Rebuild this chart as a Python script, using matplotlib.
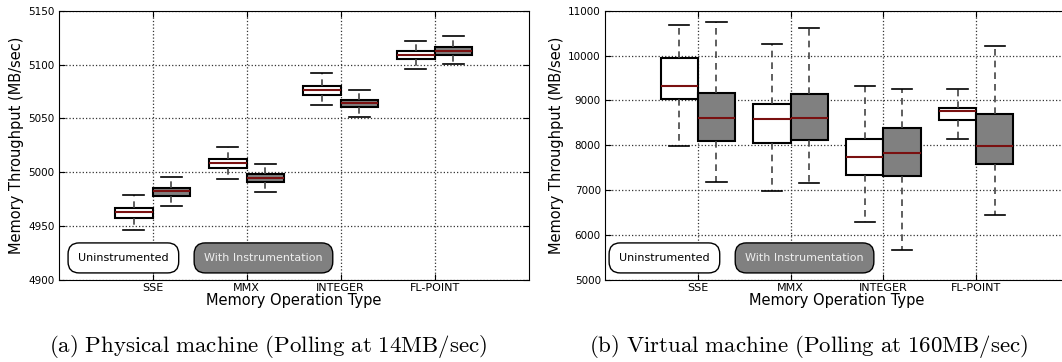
import numpy as np
import matplotlib
matplotlib.use('Agg')
import matplotlib.pyplot as plt

plt.rcParams['font.family'] = ['DejaVu Sans']
plt.rcParams['mathtext.fontset'] = 'cm'

categories = ['SSE', 'MMX', 'INTEGER', 'FL-POINT']

# physical machine: whisker low, q1, median, q3, whisker high
phys_plain_lo = [4946.6, 4994.1, 5062.3, 5096.0]
phys_plain_q1 = [4958.0, 5004.3, 5071.9, 5105.0]
phys_plain_med = [4962.7, 5008.6, 5076.2, 5108.9]
phys_plain_q3 = [4967.3, 5012.7, 5080.2, 5112.7]
phys_plain_hi = [4979.3, 5023.8, 5092.0, 5121.9]

phys_inst_lo = [4968.5, 4981.5, 5050.9, 5100.3]
phys_inst_q1 = [4978.4, 4991.4, 5060.2, 5108.6]
phys_inst_med = [4982.4, 4994.8, 5063.9, 5113.0]
phys_inst_q3 = [4985.5, 4998.1, 5067.3, 5116.0]
phys_inst_hi = [4995.4, 5007.7, 5076.5, 5126.5]

# virtual machine
virt_plain_lo = [7985, 6978, 6282, 8133]
virt_plain_q1 = [9030, 8045, 7348, 8556]
virt_plain_med = [9311, 8578, 7748, 8763]
virt_plain_q3 = [9941, 8926, 8141, 8830]
virt_plain_hi = [10674, 10252, 9326, 9252]

virt_inst_lo = [7193, 7170, 5674, 6452]
virt_inst_q1 = [8104, 8111, 7311, 7593]
virt_inst_med = [8600, 8600, 7830, 7978]
virt_inst_q3 = [9170, 9148, 8393, 8696]
virt_inst_hi = [10748, 10622, 9259, 10207]


def make_stats(lo, q1, med, q3, hi):
    return [dict(whislo=a, q1=b, med=c, q3=d, whishi=e, fliers=[])
            for a, b, c, d, e in zip(lo, q1, med, q3, hi)]


def draw_boxes(ax, stats, pos, face):
    ax.bxp(stats, positions=pos, widths=0.4, capwidths=0.22,
           patch_artist=True, showfliers=False, manage_ticks=False,
           boxprops=dict(facecolor=face, edgecolor='black', linewidth=1.5),
           medianprops=dict(color='#7a1010', linewidth=1.5),
           whiskerprops=dict(color='#444444', linestyle=(0, (4, 3)), linewidth=1.2),
           capprops=dict(color='black', linewidth=1.2))


fig = plt.figure(figsize=(10.62, 3.62), dpi=100)
ax1 = fig.add_axes([0.0551, 0.2265, 0.4426, 0.744])
ax2 = fig.add_axes([0.5697, 0.2265, 0.4369, 0.744])

x = np.arange(1, len(categories) + 1)

panels = [
    (ax1, make_stats(phys_plain_lo, phys_plain_q1, phys_plain_med, phys_plain_q3, phys_plain_hi),
     make_stats(phys_inst_lo, phys_inst_q1, phys_inst_med, phys_inst_q3, phys_inst_hi),
     (4900, 5150), np.arange(4900, 5151, 50), (0.138, 0.436)),
    (ax2, make_stats(virt_plain_lo, virt_plain_q1, virt_plain_med, virt_plain_q3, virt_plain_hi),
     make_stats(virt_inst_lo, virt_inst_q1, virt_inst_med, virt_inst_q3, virt_inst_hi),
     (5000, 11000), np.arange(5000, 11001, 1000), (0.128, 0.43)),
]

for ax, plain, inst, ylim, yticks, legx in panels:
    draw_boxes(ax, plain, x - 0.2, 'white')
    draw_boxes(ax, inst, x + 0.2, '#808080')
    ax.set_xlim(0, 5)
    ax.set_ylim(*ylim)
    ax.set_yticks(yticks)
    ax.set_xticks(x)
    ax.set_xticklabels(categories)
    ax.grid(True, linestyle=':', color='#333333', linewidth=0.9)
    ax.set_axisbelow(True)
    ax.tick_params(direction='in', top=True, right=True, length=4,
                   labelsize=7.5, pad=3)
    ax.tick_params(axis='x', labelsize=8, pad=2.5)
    ax.set_xlabel('Memory Operation Type', fontsize=10.5, labelpad=0)
    ax.set_ylabel('Memory Throughput (MB/sec)', fontsize=10.5, labelpad=3)
    ax.text(legx[0], 0.082, 'Uninstrumented', transform=ax.transAxes,
            ha='center', va='center', fontsize=8, color='black',
            bbox=dict(boxstyle='round,pad=0.9,rounding_size=1.0',
                      facecolor='white', edgecolor='black', linewidth=1))
    ax.text(legx[1], 0.082, 'With Instrumentation', transform=ax.transAxes,
            ha='center', va='center', fontsize=8, color='#eeeeee',
            bbox=dict(boxstyle='round,pad=0.9,rounding_size=1.0',
                      facecolor='#808080', edgecolor='black', linewidth=1))

fig.text(0.2528, 0.043, r'$\mathrm{(a)\ Physical\ machine\ (Polling\ at\ 14MB/sec)}$',
         ha='center', va='center', fontsize=16.5)
fig.text(0.7613, 0.043, r'$\mathrm{(b)\ Virtual\ machine\ (Polling\ at\ 160MB/sec)}$',
         ha='center', va='center', fontsize=16.5)

fig.savefig('out.png', dpi=100)
